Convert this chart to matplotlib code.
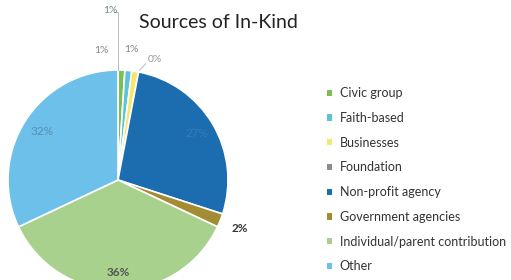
import matplotlib
matplotlib.use("Agg")
import matplotlib.pyplot as plt
import numpy as np

# Данные: источники in-kind, по часовой стрелке от 12 часов
categories = [
    "Civic group",
    "Faith-based",
    "Businesses",
    "Foundation",
    "Non-profit agency",
    "Government agencies",
    "Individual/parent contribution",
    "Other",
]
shares = [1, 1, 1, 0, 27, 2, 36, 32]
labels = ["1%", "1%", "1%", "0%", "27%", "2%", "36%", "32%"]

colors = ["#7dbf4e", "#5cc3d8", "#f3e86a", "#8c8c8c",
          "#1c6db0", "#a38c33", "#a9d18e", "#6cc0ea"]
label_colors = ["#6f8a78", "#858585", "#858585", "#9a9a9a",
                "#2f7dbd", "#333333", "#555555", "#5a8fb0"]

W, H = 511, 280
plt.rcParams["font.family"] = ["Lato", "DejaVu Sans"]

fig = plt.figure(figsize=(W / 100, H / 100), dpi=100, facecolor="white")
ax = fig.add_axes([0, 0, 1, 1])

cx, cy, r = 118, H - 180, 110
wedges, _ = ax.pie(
    shares, colors=colors, startangle=90, counterclock=False,
    center=(cx, cy), radius=r, frame=True,
    wedgeprops=dict(edgecolor="white", linewidth=1.2),
)
ax.set_xlim(0, W)
ax.set_ylim(0, H)
ax.set_aspect("equal")
ax.axis("off")

# подписи: крупные доли — по радиусу, мелкие — со смещением от дуги (px)
small_offsets = {0: (-11, 60), 1: (-27, 20), 2: (-4, 22), 3: (16, 12)}
radial = {4: 0.83, 5: 1.19, 6: 0.84, 7: 0.82}
for i, (w, lab, col) in enumerate(zip(wedges, labels, label_colors)):
    ang = np.deg2rad((w.theta1 + w.theta2) / 2)
    if i in small_offsets:
        dx, dy = small_offsets[i]
        px, py = cx + r * np.cos(ang) + dx, cy + r * np.sin(ang) + dy
    else:
        k = radial[i]
        px, py = cx + k * r * np.cos(ang), cy + k * r * np.sin(ang)
    fs = 8.5 if lab in ("2%", "36%", "32%", "27%") else 7.5
    ax.text(px, py, lab, ha="center", va="center", fontsize=fs, color=col,
            fontweight="bold" if lab in ("2%", "36%") else "normal")

# выноски для самых маленьких долей
ang0 = np.deg2rad((wedges[0].theta1 + wedges[0].theta2) / 2)
x0, y0 = cx + r * np.cos(ang0) - 3, cy + r * np.sin(ang0)
ax.plot([x0, x0, x0 - 4], [y0, y0 + 58, y0 + 58], color="#bbbbbb", lw=0.7)
ang3 = np.deg2rad(wedges[3].theta1)
x3, y3 = cx + r * np.cos(ang3), cy + r * np.sin(ang3)
ax.plot([x3 + 1, x3 + 7], [y3 + 2, y3 + 8], color="#bbbbbb", lw=0.7)

ax.text(218, H - 22, "Sources of In-Kind", ha="center", va="center",
        fontsize=14, color="#222222")

leg = ax.legend(
    wedges, categories, loc="upper left",
    bbox_to_anchor=(316 / W, 1 - 76 / H), bbox_transform=fig.transFigure,
    frameon=False, fontsize=9, handlelength=0.4, handleheight=0.4,
    handletextpad=0.6, labelspacing=1.02,
)
for t in leg.get_texts():
    t.set_color("#333333")
for h in leg.legend_handles:
    h.set_edgecolor("none")

fig.savefig("out.png", dpi=100, facecolor="white")
